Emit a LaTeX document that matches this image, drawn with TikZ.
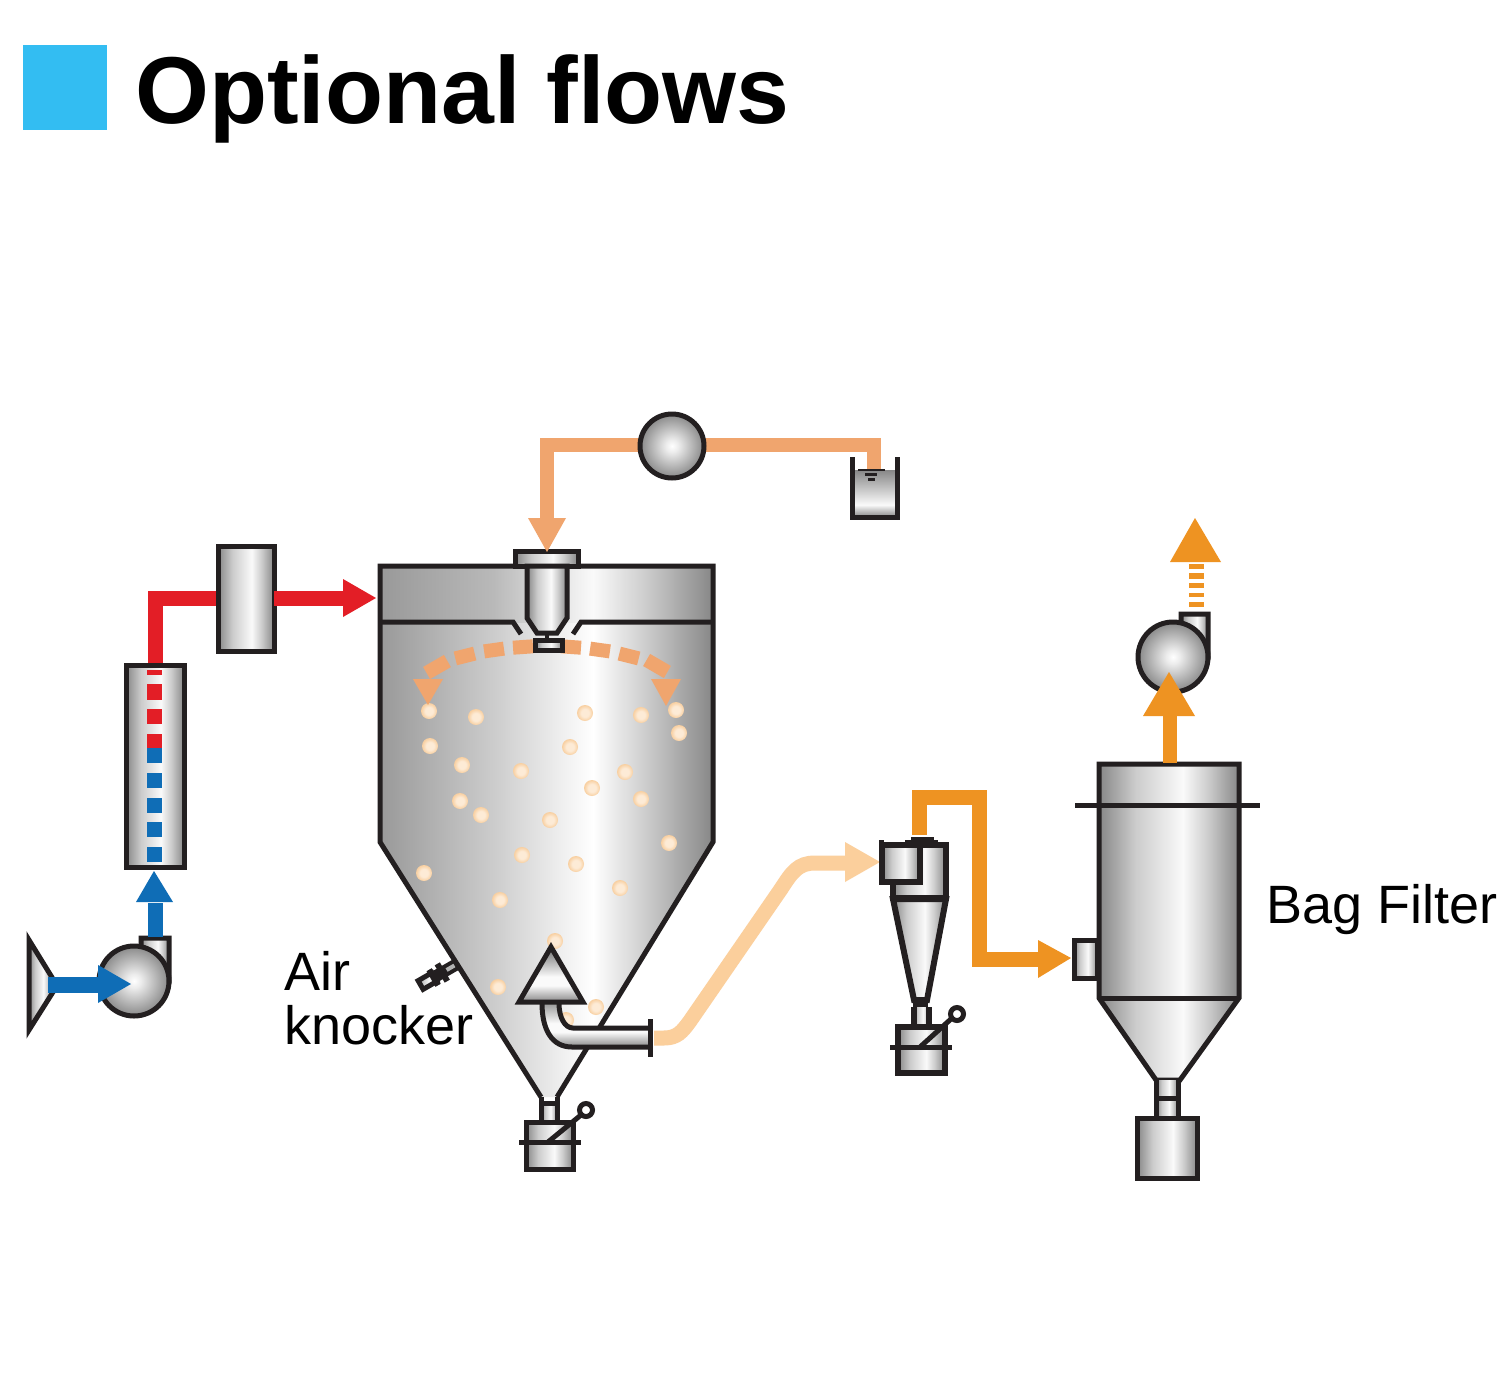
\documentclass[tikz,border=0pt]{standalone}
\usepackage{fontspec}
\setmainfont{Liberation Sans}
\definecolor{edgec}{HTML}{231F20}
\definecolor{titleblue}{HTML}{33BDF2}
\definecolor{feedc}{HTML}{F0A56E}
\definecolor{lightc}{HTML}{FBCF9C}
\definecolor{exitc}{HTML}{EE9322}
\definecolor{hotc}{HTML}{E31E26}
\definecolor{coldc}{HTML}{0F6DB6}
\definecolor{dropa}{HTML}{FDEBD6}
\definecolor{dropb}{HTML}{F8CFA0}
\definecolor{g1}{gray}{0.53}
\definecolor{g2}{gray}{0.80}
\definecolor{g3}{gray}{0.98}
\definecolor{gc}{gray}{0.60}
\definecolor{gb}{gray}{0.45}
\pgfdeclarehorizontalshading{metal}{100bp}{color(0bp)=(g1); color(25bp)=(g1); color(38bp)=(g2); color(55bp)=(g3); color(64bp)=(g2); color(75bp)=(g1); color(100bp)=(g1)}
\pgfdeclarehorizontalshading{chamber}{100bp}{color(0bp)=(gc); color(25bp)=(gc); color(42bp)=(g2); color(57bp)=(white); color(65bp)=(g2); color(75bp)=(g1); color(100bp)=(g1)}
\pgfdeclarehorizontalshading{chambertop}{100bp}{color(0bp)=(gc); color(25bp)=(gc); color(42bp)=(gray!55!white); color(57bp)=(g3); color(65bp)=(g2); color(75bp)=(g1); color(100bp)=(g1)}
\pgfdeclareverticalshading{tubev}{100bp}{color(0bp)=(g1); color(25bp)=(g1); color(42bp)=(g3); color(52bp)=(g3); color(75bp)=(gc); color(100bp)=(gc)}
\pgfdeclareverticalshading{triv}{100bp}{color(0bp)=(g1); color(25bp)=(g1); color(40bp)=(g3); color(48bp)=(g3); color(70bp)=(g1); color(100bp)=(g1)}
\pgfdeclareverticalshading{tankv}{100bp}{color(0bp)=(g1); color(25bp)=(g1); color(38bp)=(g3); color(75bp)=(g1); color(100bp)=(g1)}
\pgfdeclareradialshading{ballsh}{\pgfpoint{0bp}{0bp}}{color(0bp)=(white); color(5bp)=(gray!15!white); color(25bp)=(gb!85!white); color(50bp)=(gb)}
\pgfdeclareradialshading{dropsh}{\pgfpoint{0bp}{0bp}}{color(0bp)=(dropa); color(12bp)=(dropa); color(25bp)=(dropb); color(50bp)=(dropb)}
\tikzset{
  outl/.style={draw=edgec,line width=5pt,line join=miter},
  metalbox/.style={outl,shading=metal},
  tubebox/.style={outl,shading=tubev},
  ballbox/.style={outl,shading=ballsh},
  flow/.style={line width=15pt,line cap=butt,line join=miter},
  label/.style={inner sep=0pt,anchor=base west,font=\fontsize{54}{54}\selectfont}
}
\begin{document}
\begin{tikzpicture}[x=1pt,y=-1pt]
\useasboundingbox (0,0) rectangle (1500,1379);
\fill[white] (0,0) rectangle (1500,1379);
% title
\fill[titleblue] (23,45) rectangle (107,130);
\node[inner sep=0pt,anchor=base west,font=\fontsize{95}{95}\selectfont\bfseries] (title) at (135,123) {Optional flows};

% ---- blower, inlet and heater column
\draw[metalbox] (29,940) -- (53,979) -- (53,992) -- (29,1030) -- cycle;
\draw[metalbox] (141,948) -- (141,938) -- (169,938) -- (169,981) -- (150,981) -- cycle;
\draw[ballbox] (134,981) circle (35);
\fill[coldc] (48,977) rectangle (98,993);
\fill[coldc] (98,965) -- (131,984) -- (98,1003) -- cycle;
\draw[metalbox] (126,665) rectangle (184,867);
\fill[coldc] (148,903) rectangle (163,937);
\fill[coldc] (136,902) -- (154,871) -- (173,902) -- cycle;
\foreach \a/\b in {670/675,684/700,709/724,734/748} \fill[hotc] (147,\a) rectangle (162,\b);
\foreach \a/\b in {748/763,773/788,798/813,822/837,847/862} \fill[coldc] (147,\a) rectangle (162,\b);
\draw[hotc,flow] (155,663) -- (155,598) -- (219,598);
\draw[metalbox] (218,546) rectangle (274,651);
\draw[hotc,flow] (274,598) -- (344,598);
\fill[hotc] (343,579) -- (376,598) -- (343,617) -- cycle;

% ---- chamber
\path[shading=chamber] (380,622) -- (713,622) -- (713,842) -- (557,1097) -- (541,1097) -- (380,842) -- cycle;
\path[shading=chambertop] (380,566) rectangle (713,622);
\foreach \x/\y in {429/711,476/717,585/713,641/715,676/710,679/733,430/746,570/747,462/765,521/771,625/772,592/788,641/799,460/801,481/815,550/820,522/855,576/864,669/843,424/873,620/888,500/900,555/941,498/987,596/1007,566/1020}
  \path[shading=dropsh] (\x,\y) circle (8);
\draw[outl] (541,1097) -- (380,842) -- (380,566) -- (713,566) -- (713,842) -- (557,1097);
\draw[outl] (380,622) -- (513,622) -- (521,634);
\draw[outl] (713,622) -- (581,622) -- (573,634);
% spray
\foreach \x/\y/\a/\l in {437/667/30/12,465/656/14/10,494/650/8/10,523/647/4/10,571/647/-4/10,600/650/-8/10,629/656/-14/10,657/666/-30/12}
  \fill[feedc,rotate around={\a:(\x,\y)}] (\x-\l,\y-7) rectangle (\x+\l,\y+7);
\fill[feedc] (413,679) -- (443,679) -- (428,705) -- cycle;
\fill[feedc] (651,679) -- (681,679) -- (666,706) -- cycle;
% nozzle
\draw[metalbox] (515,551) rectangle (578,566);
\draw[metalbox] (527,566) -- (527,618) -- (537,633) -- (557,633) -- (567,618) -- (567,566) -- cycle;
\draw[edgec,line width=4pt] (547,633) -- (547,640);
\draw[outl,shading=metal] (535,640.5) rectangle (562,650.5);
% feed line
\draw[feedc,flow,line width=14pt] (547,520) -- (547,445) -- (874,445) -- (874,470);
\fill[feedc] (528,518) -- (566,518) -- (547,552) -- cycle;
\draw[ballbox] (672,446) circle (32);
% tank
\path[shading=tankv] (852,470) rectangle (897,517);
\draw[outl] (852,457) -- (852,517) -- (897,517) -- (897,457);
\draw[edgec,line width=2.5pt] (858,470) -- (885,470) (865,474.5) -- (877,474.5) (868,479.5) -- (875,479.5);

% knocker
\begin{scope}[shift={(457,964)},rotate=30]
\draw[draw=edgec,line width=5pt,shading=metal] (-42,-5) rectangle (-26,5);
\fill[edgec] (-30,-9) rectangle (-24,9);
\fill[edgec] (-20,-10) rectangle (-14,10);
\fill[edgec] (-24,-6) rectangle (0,6);
\fill[gray!60!white] (-12,-2) rectangle (-3,2);
\end{scope}

% ---- outlet cone and elbow
\path[shading=tubev] (542,1003) .. controls (542,1030) and (552,1047) .. (572,1047) -- (649,1047) -- (649,1028) -- (573,1028) .. controls (565,1028) and (559,1018) .. (559,1003) -- cycle;
\draw[outl] (542,1003) .. controls (542,1030) and (552,1047) .. (572,1047) -- (649,1047);
\draw[outl] (559,1003) .. controls (559,1018) and (565,1028) .. (573,1028) -- (649,1028);
\draw[outl] (650,1019) -- (650,1057);
\draw[outl,shading=triv] (551,947) -- (583,1002) -- (519,1002) -- cycle;

% hopper 1
\path[shading=metal] (541,1103) rectangle (557,1122);
\draw[outl] (541,1097) -- (541,1122) (557,1097) -- (557,1122) (541,1103) -- (557,1103);
\draw[metalbox] (526,1122) rectangle (573,1169);
\draw[outl] (519,1142) -- (581,1142);
\draw[outl] (548,1142) -- (581,1115);
\draw[outl,fill=white] (586,1110) circle (6.5);

% ---- light flow
\draw[lightc,flow] (654,1038) -- (664,1038) .. controls (677,1038) and (682,1032) .. (690,1021) -- (781,889) .. controls (792,872) and (798,863) .. (815,863) -- (847,863);
\fill[lightc] (845,842) -- (880,862) -- (845,882) -- cycle;

% ---- cyclone
\draw[exitc,flow] (919,835) -- (919,797) -- (979,797) -- (979,959) -- (1039,959);
\fill[exitc] (1038,940) -- (1071,958) -- (1038,978) -- cycle;
\begin{scope}[line width=6pt]
\draw[metalbox,line width=6pt] (893,845) rectangle (946,898);
\draw[tubebox,line width=4pt] (907,842) rectangle (936,845);
\draw[edgec,line width=3pt] (911,838) -- (934,838);
\draw[metalbox,line width=6pt] (882,845) rectangle (920,882);
\draw[outl,line width=5pt] (881,840) -- (881,885);
\draw[metalbox,line width=6pt] (893,899) -- (946,899) -- (927,1000) -- (914,1000) -- cycle;
\fill[edgec] (913,998) rectangle (928,1009);
\path[shading=metal] (913,1007) rectangle (930,1027);
\draw[outl,line width=6pt] (914,1007) -- (914,1027) (929,1007) -- (929,1027);
\draw[metalbox,line width=6pt] (898,1027) rectangle (945,1073);
\draw[outl] (890,1047) -- (952,1047);
\draw[outl] (920,1047) -- (951,1019);
\draw[outl,fill=white] (957,1014) circle (6.5);
\end{scope}

% ---- bag filter
\draw[metalbox] (1099,764) -- (1239,764) -- (1239,998) -- (1180,1080) -- (1156,1080) -- (1099,998) -- cycle;
\draw[outl] (1099,998) -- (1239,998);
\draw[outl] (1075,805) -- (1260,805);
\draw[metalbox] (1074,940) rectangle (1097,978);
\path[shading=metal] (1156,1080) rectangle (1178,1118);
\draw[outl] (1156,1080) -- (1156,1118) (1178,1080) -- (1178,1118) (1156,1098) -- (1178,1098);
\draw[metalbox] (1137,1118) rectangle (1197,1178);

% ---- exhaust blower
\draw[metalbox] (1181,625) -- (1181,614) -- (1208,614) -- (1208,657) -- (1190,657) -- cycle;
\draw[ballbox] (1173,657) circle (35);
\fill[exitc] (1163,716) rectangle (1177,763);
\fill[exitc] (1143,716) -- (1169,672) -- (1195,716) -- cycle;
\foreach \a/\b in {564/569,573/579,583/588,593/597,602/607} \fill[exitc] (1189,\a) rectangle (1204,\b);
\fill[exitc] (1170,562) -- (1195,518) -- (1221,562) -- cycle;

% labels
\node[label] (air) at (284,990) {Air};
\node[label] (knocker) at (284,1044) {knocker};
\node[label] (bag) at (1266,923) {Bag Filter};
\end{tikzpicture}
\end{document}
